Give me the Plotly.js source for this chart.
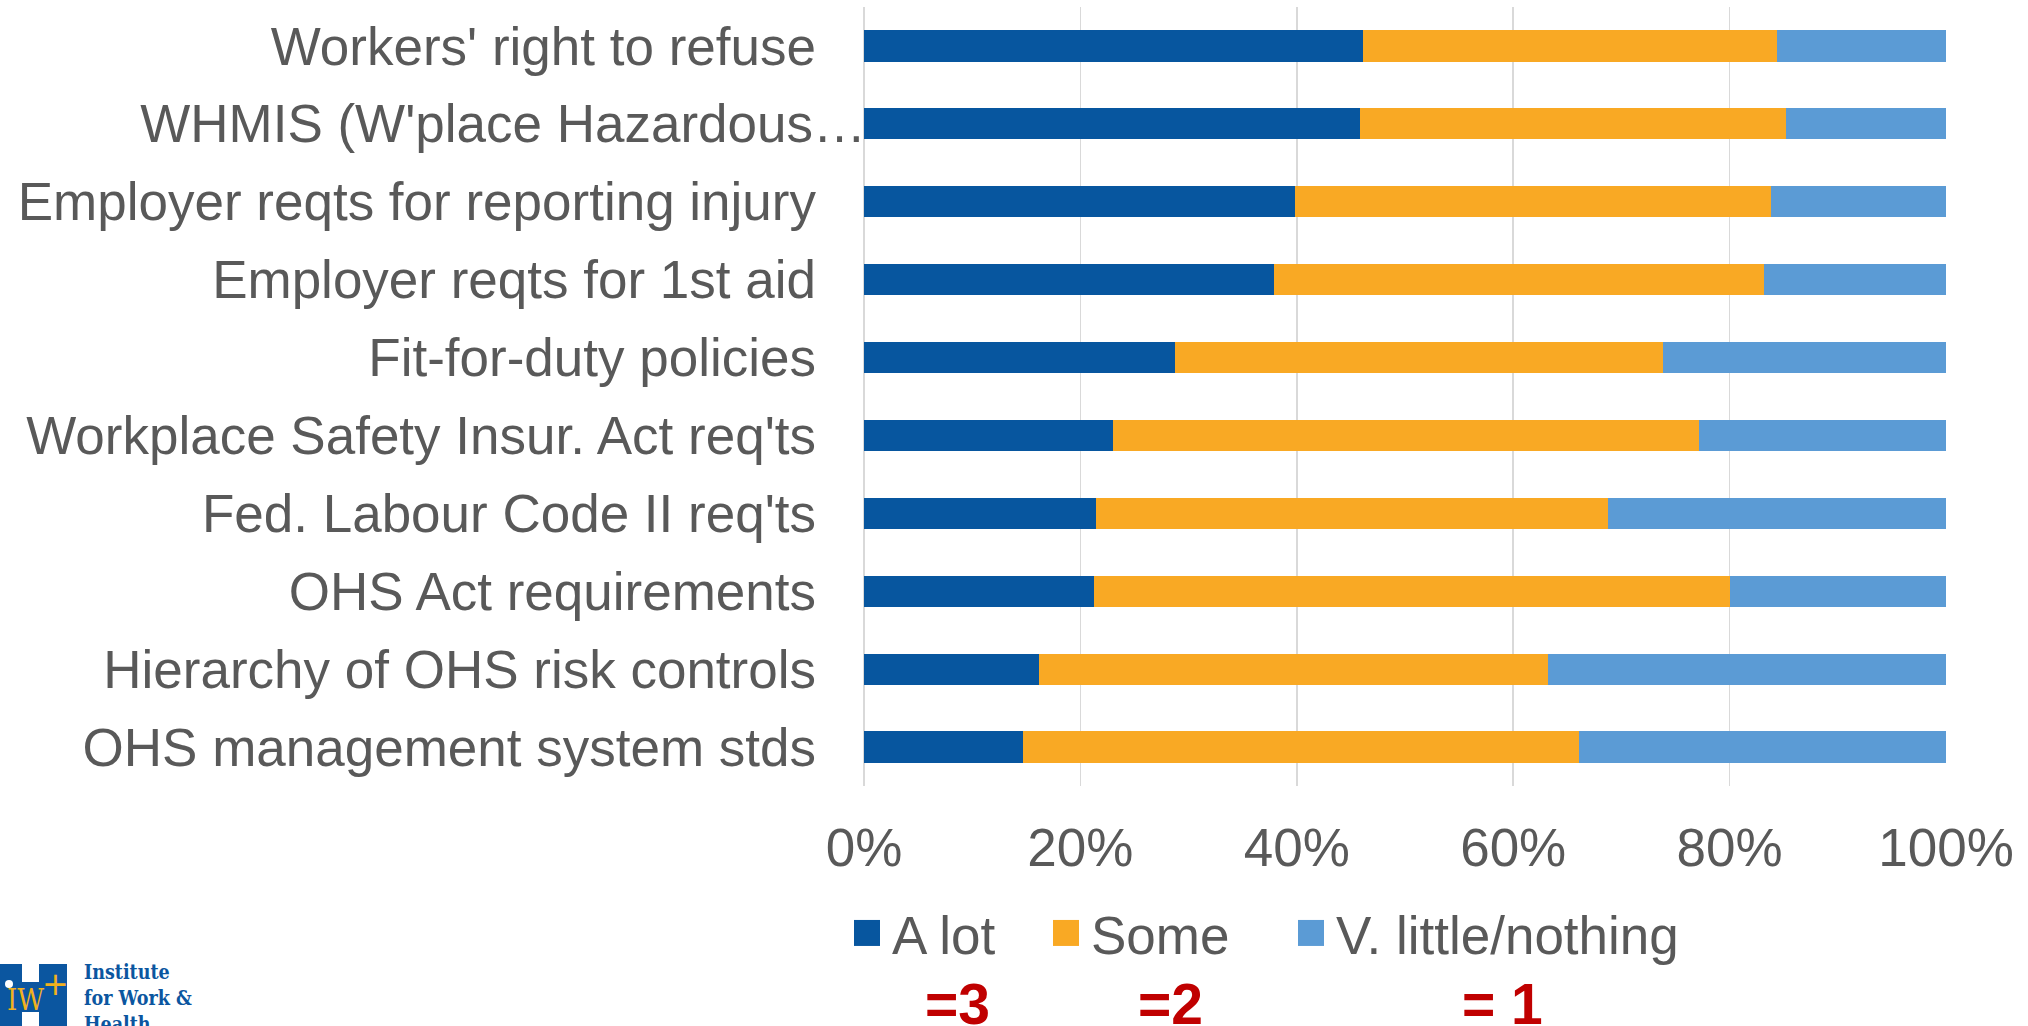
<!DOCTYPE html>
<html>
<head>
<meta charset="utf-8">
<script src="https://cdn.plot.ly/plotly-3.0.1.min.js"></script>
<style>
  html, body { margin: 0; padding: 0; background: #ffffff; }
  #chart { width: 2028px; height: 1026px; }
</style>
</head>
<body>
<div id="chart"></div>
<script>
// ---- Data ----
const categories = [
  "Workers' right to refuse",
  "WHMIS (W'place Hazardous…",
  "Employer reqts for reporting injury",
  "Employer reqts for 1st aid",
  "Fit-for-duty policies",
  "Workplace Safety Insur. Act req'ts",
  "Fed. Labour Code II req'ts",
  "OHS Act requirements",
  "Hierarchy of OHS risk controls",
  "OHS management system stds"
];
const aLot   = [46.1, 45.8, 39.8, 37.9, 28.7, 23.0, 21.4, 21.3, 16.2, 14.7];
const some   = [38.3, 39.4, 44.0, 45.3, 45.1, 54.2, 47.4, 58.7, 47.0, 51.4];
const vLittle= [15.6, 14.8, 16.2, 16.8, 26.2, 22.8, 31.2, 20.0, 36.8, 33.9];
const seriesNames = ["A lot", "Some", "V. little/nothing"];
const scoreLabels = ["=3", "=2", "= 1"];
const xTickVals = [0, 20, 40, 60, 80, 100];
const xTickText = ["0%", "20%", "40%", "60%", "80%", "100%"];
const logoLines = ["Institute", "for Work &", "Health"];

// ---- Styling ----
const FONT = "Liberation Sans, Arial, sans-serif";
const TXT = "#595959";
const colors = ["#07569F", "#F9A924", "#5B9BD5"];

// plot area in pixels
const L = 864, R = 82, T = 7, B = 240, W = 2028, H = 1026;

const seriesVals = [aLot, some, vLittle];
const legendWidths = [154, 200, null];
const traces = seriesVals.map((vals, i) => {
  const t = {
    type: "bar",
    orientation: "h",
    name: seriesNames[i],
    y: categories,
    x: vals,
    marker: { color: colors[i], line: { width: 0 } },
    hoverinfo: "x+y+name"
  };
  if (legendWidths[i]) t.legendwidth = legendWidths[i];
  return t;
});

// helpers for pixel-based placement, anchored at the plot's bottom-left corner
function pxAnno(text, px, py, opts) {
  return Object.assign({
    xref: "paper", yref: "paper", x: 0, y: 0,
    xshift: px - L, yshift: (H - B) - py,
    text: text, showarrow: false, xanchor: "center", yanchor: "middle"
  }, opts || {});
}
function pxRect(x0, y0, x1, y1, color) {
  return {
    type: "rect", xref: "paper", yref: "paper",
    xsizemode: "pixel", ysizemode: "pixel", xanchor: 0, yanchor: 0,
    x0: x0 - L, x1: x1 - L, y0: (H - B) - y1, y1: (H - B) - y0,
    fillcolor: color, line: { width: 0 }, layer: "above"
  };
}

const scoreX = [957, 1170, 1502];
const annotations = scoreLabels.map((s, i) =>
  pxAnno("<b>" + s + "</b>", scoreX[i], 1004, { font: { family: FONT, size: 57, color: "#C00000" } })
);
const logoY = [972, 998, 1024];
logoLines.forEach((s, i) => {
  annotations.push(pxAnno("<b>" + s + "</b>", 82, logoY[i], {
    xanchor: "left", font: { family: "DejaVu Serif Condensed, DejaVu Serif, serif", size: 19.5, color: "#0B56A0" }
  }));
});
annotations.push(pxAnno("IW", 25, 1000, { font: { family: "DejaVu Serif Condensed, DejaVu Serif, serif", size: 29, color: "#F2B11E" } }));
annotations.push(pxAnno("+", 55, 984, { font: { family: "DejaVu Sans, sans-serif", size: 32, color: "#F2B11E" } }));

const shapes = [
  pxRect(0, 964, 67, 1026, "#0B56A0"),
  pxRect(22, 964, 39, 982, "#FFFFFF"),
  pxRect(22, 1012, 39, 1026, "#FFFFFF"),
  {
    type: "circle", xref: "paper", yref: "paper",
    xsizemode: "pixel", ysizemode: "pixel", xanchor: 0, yanchor: 0,
    x0: 5 - L, x1: 13 - L, y0: (H - B) - 988, y1: (H - B) - 980,
    fillcolor: "#FFFFFF", line: { width: 0 }, layer: "above"
  }
];

const layout = {
  width: W, height: H,
  margin: { l: L, r: R, t: T, b: B, pad: 0 },
  paper_bgcolor: "#ffffff",
  plot_bgcolor: "#ffffff",
  barmode: "stack",
  bargap: 0.6,
  showlegend: true,
  font: { family: FONT, color: TXT, size: 53 },
  xaxis: {
    range: [0, 100],
    tickvals: xTickVals,
    ticktext: xTickText,
    showgrid: true,
    gridcolor: "#D9D9D9",
    gridwidth: 1.5,
    zeroline: true,
    zerolinecolor: "#D9D9D9",
    zerolinewidth: 1.5,
    showline: false,
    ticks: "",
    ticklabelstandoff: 26,
    tickfont: { family: FONT, size: 53, color: TXT },
    fixedrange: true
  },
  yaxis: {
    type: "category",
    categoryorder: "array",
    categoryarray: categories,
    autorange: "reversed",
    showgrid: false,
    zeroline: false,
    showline: false,
    ticks: "",
    ticklabelstandoff: 47,
    tickfont: { family: FONT, size: 53, color: TXT },
    fixedrange: true
  },
  legend: {
    orientation: "h",
    x: (852 - L) / (W - L - R),
    xanchor: "left",
    y: -(933 - (H - B)) / (H - T - B),
    yanchor: "middle",
    font: { family: FONT, size: 53, color: TXT },
    bgcolor: "rgba(0,0,0,0)",
    borderwidth: 0,
    traceorder: "normal"
  },
  annotations: annotations,
  shapes: shapes
};

Plotly.newPlot("chart", traces, layout, { displayModeBar: false, staticPlot: true }).then(() => {
  // the truncated WHMIS label overhangs its ellipsis past the others' right edge in the reference
  document.querySelectorAll("#chart .ytick text").forEach(el => {
    if (el.textContent.indexOf("WHMIS") === 0) {
      const tr = el.getAttribute("transform") || "";
      el.setAttribute("transform", tr + " translate(50,0)");
    }
  });
  // larger square legend keys, as in the reference
  document.querySelectorAll("#chart .legend .legendpoints path").forEach(p => {
    p.setAttribute("d", "M8,13H-18V-13H8Z");
  });
});
</script>
</body>
</html>
